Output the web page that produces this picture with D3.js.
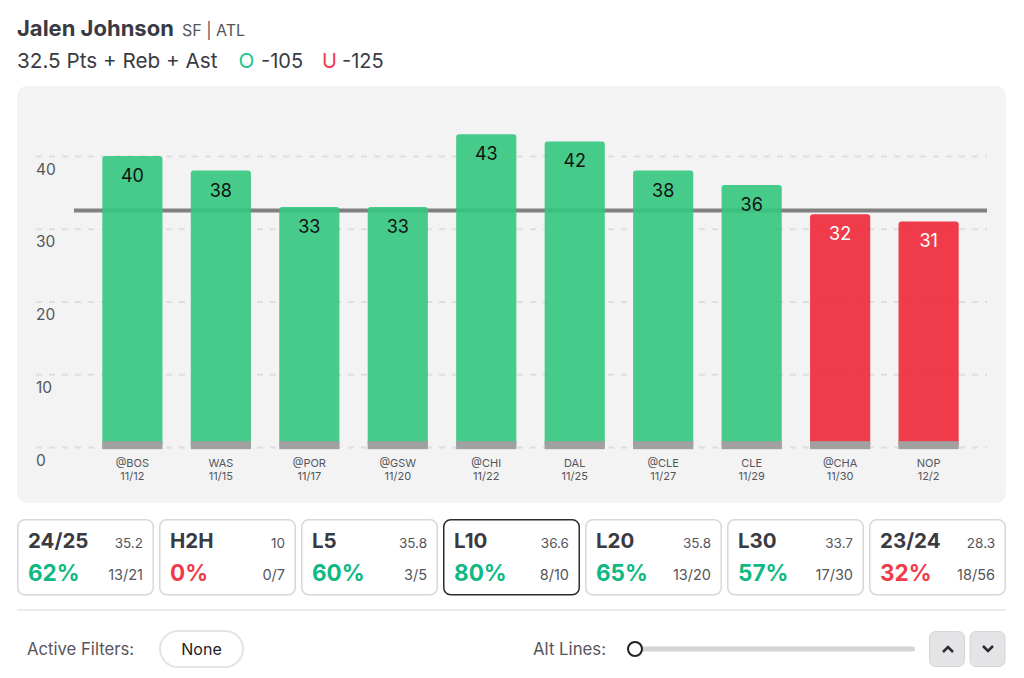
<!DOCTYPE html>
<html>
<head>
<meta charset="utf-8">
<script src="https://cdn.jsdelivr.net/npm/d3@7/dist/d3.min.js"></script>
<style>
  html, body { margin: 0; padding: 0; background: #fff; overflow: hidden; }
  svg { display: block; }
  text { font-family: Inter, "Noto Sans", sans-serif; }
  .domain { display: none; }
</style>
</head>
<body>
<div id="canvas"></div>
<script>
const opponents = ['@BOS', 'WAS', '@POR', '@GSW', '@CHI', 'DAL', '@CLE', 'CLE', '@CHA', 'NOP'];
const dates = ['11/12', '11/15', '11/17', '11/20', '11/22', '11/25', '11/27', '11/29', '11/30', '12/2'];
const totals = [40, 38, 33, 33, 43, 42, 38, 36, 32, 31];
const yTicks = [0, 10, 20, 30, 40];
const propLine = 32.5;

const splitNames = ['24/25', 'H2H', 'L5', 'L10', 'L20', 'L30', '23/24'];
const splitAvgs = ['35.2', '10', '35.8', '36.6', '35.8', '33.7', '28.3'];
const splitPcts = [62, 0, 60, 80, 65, 57, 32];
const splitRecords = ['13/21', '0/7', '3/5', '8/10', '13/20', '17/30', '18/56'];
const activeSplit = 'L10';

const GREEN = '#10b981', RED = '#ef3b4a', INK = '#3a3a42', MUTED = '#55555c';

const svg = d3.select('#canvas').append('svg').attr('width', 1024).attr('height', 678);

const addText = (x, y, str, size, weight, fill, anchor) => svg.append('text')
  .attr('x', x).attr('y', y).text(str)
  .attr('font-size', size).attr('font-weight', weight || 400)
  .attr('fill', fill || INK).attr('text-anchor', anchor || 'start');

// Header
addText(17, 36, 'Jalen Johnson', 22, 700);
addText(182, 36, 'SF | ATL', 16, 400, MUTED);
addText(17, 68, '32.5 Pts + Reb + Ast', 20.7, 400);
addText(238.5, 68, 'O', 20.7, 400, '#22c58b');
addText(261, 68, '-105', 20, 400);
addText(322, 68, 'U', 20, 400, RED);
addText(342, 68, '-125', 20, 400);

// Chart panel
svg.append('rect').attr('x', 17).attr('y', 86).attr('width', 989).attr('height', 417)
  .attr('rx', 10).attr('fill', '#f3f3f3');

const x = d3.scaleBand().domain(d3.range(totals.length)).range([74, 987]).padding(0.32);
const y = d3.scaleLinear().domain([0, 40]).range([447, 156]);

// Grid + y labels
const yAxis = svg.append('g').attr('transform', 'translate(36,0)')
  .call(d3.axisRight(y).tickValues(yTicks).tickSize(951).tickFormat(d3.format('d')));
yAxis.selectAll('.tick line').attr('stroke', '#dedede').attr('stroke-width', 2).attr('stroke-dasharray', '6 7');
yAxis.selectAll('.tick text').attr('x', 0).attr('dy', 14).attr('text-anchor', 'start')
  .attr('dominant-baseline', 'middle')
  .attr('font-size', 15.5).attr('fill', MUTED).attr('font-family', 'Inter');

// Prop line
svg.append('line').attr('x1', 74).attr('x2', 987).attr('y1', y(propLine)).attr('y2', y(propLine))
  .attr('stroke', '#808080').attr('stroke-width', 4);

// Bars
const bars = svg.selectAll('.game').data(totals).enter().append('g').attr('class', 'game');
bars.append('rect')
  .attr('x', (d, i) => x(i)).attr('y', d => y(d))
  .attr('width', x.bandwidth()).attr('height', d => y(0) - y(d))
  .attr('rx', 3)
  .attr('fill', d => d > propLine ? '#33c67f' : '#ee2737')
  .attr('fill-opacity', 0.9);
// grey strip at the base of each bar
bars.append('rect')
  .attr('x', (d, i) => x(i)).attr('y', y(0.8))
  .attr('width', x.bandwidth()).attr('height', y(-0.3) - y(0.8))
  .attr('fill', '#a1a1a1');
bars.append('text')
  .attr('x', (d, i) => x(i) + x.bandwidth() / 2).attr('y', d => y(d) + 26)
  .attr('text-anchor', 'middle').attr('font-size', 18)
  .attr('fill', d => d > propLine ? '#111' : '#fff')
  .text(d => d);

// X labels, two lines
const xAxis = svg.append('g').attr('transform', 'translate(0,449)')
  .call(d3.axisBottom(x).tickSize(0).tickFormat(() => ''));
xAxis.selectAll('.tick text').each(function(i) {
  const t = d3.select(this).attr('y', 0).attr('dy', 0)
    .attr('font-size', 11).attr('fill', MUTED).attr('font-family', 'Inter');
  t.append('tspan').attr('x', 0).attr('y', 18).text(opponents[i]);
  t.append('tspan').attr('x', 0).attr('y', 31).text(dates[i]);
});

// Split cards
const cardX = d3.scaleBand().domain(splitNames).range([17, 1006]).paddingInner(5 / 142);
const cards = svg.selectAll('.card').data(splitNames).enter().append('g')
  .attr('class', 'card')
  .attr('transform', d => `translate(${cardX(d)},519)`);
const cardW = cardX.bandwidth();
cards.append('rect').attr('x', 0.75).attr('y', 0.75)
  .attr('width', cardW - 1.5).attr('height', 75).attr('rx', 7).attr('fill', '#fff')
  .attr('stroke', d => d === activeSplit ? '#2b2b33' : '#d8d8d8').attr('stroke-width', 1.5);
cards.append('text').attr('x', 11).attr('y', 29).attr('font-size', 20.5).attr('font-weight', 700)
  .attr('fill', INK).text(d => d);
cards.append('text').attr('x', cardW - 11).attr('y', 29).attr('text-anchor', 'end')
  .attr('font-size', 13.5).attr('fill', MUTED).text((d, i) => splitAvgs[i]);
cards.append('text').attr('x', 11).attr('y', 62).attr('font-size', 22.5).attr('font-weight', 700)
  .attr('fill', (d, i) => splitPcts[i] >= 50 ? GREEN : RED).text((d, i) => splitPcts[i] + '%');
cards.append('text').attr('x', cardW - 11).attr('y', 61).attr('text-anchor', 'end')
  .attr('font-size', 14.5).attr('fill', MUTED).text((d, i) => splitRecords[i]);

// Divider
svg.append('line').attr('x1', 17).attr('x2', 1006).attr('y1', 610).attr('y2', 610)
  .attr('stroke', '#e4e4e4').attr('stroke-width', 1.5);

// Footer controls
addText(27, 655, 'Active Filters:', 16.7, 400, MUTED);
svg.append('rect').attr('x', 160).attr('y', 631).attr('width', 83).attr('height', 36).attr('rx', 18)
  .attr('fill', '#fff').attr('stroke', '#e4e4e4').attr('stroke-width', 2);
addText(201.5, 655, 'None', 16, 400, '#222', 'middle');

addText(533, 655, 'Alt Lines:', 16.8, 400, MUTED);
svg.append('rect').attr('x', 635).attr('y', 646.5).attr('width', 280).attr('height', 5).attr('rx', 2.5).attr('fill', '#d4d4d8');
svg.append('circle').attr('cx', 635).attr('cy', 649).attr('r', 7).attr('fill', '#fff').attr('stroke', '#222').attr('stroke-width', 2);

[[929, 'M943 652L948 647L953 652'], [969.5, 'M983 646L988 651L993 646']].forEach(b => {
  svg.append('rect').attr('x', b[0] + 0.5).attr('y', 631.5).attr('width', 35).attr('height', 35).attr('rx', 6)
    .attr('fill', '#e4e4e6').attr('stroke', '#d6d6d8');
  svg.append('path').attr('d', b[1]).attr('fill', 'none').attr('stroke', '#2b2b33').attr('stroke-width', 2.5);
});
</script>
</body>
</html>
